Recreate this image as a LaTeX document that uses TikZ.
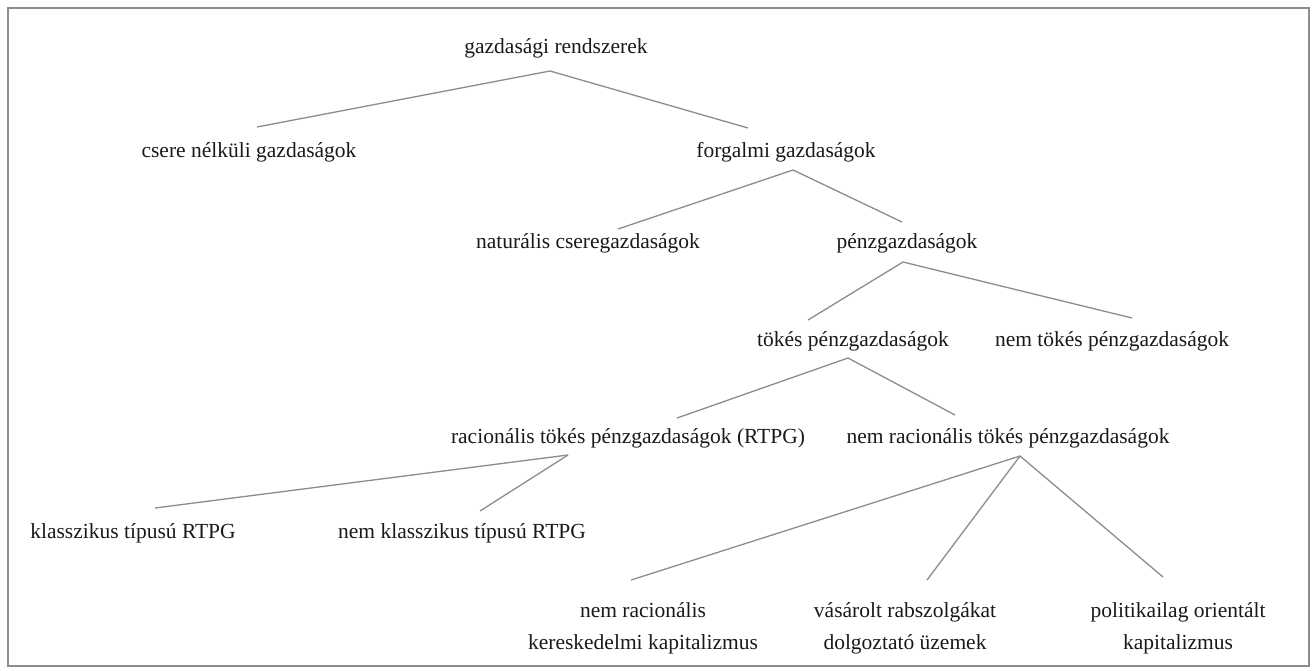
\documentclass[tikz,border=0pt]{standalone}
\usepackage{fontspec}
\setmainfont{Liberation Serif}
\begin{document}
\begin{tikzpicture}[x=1pt,y=-1pt,
  lbl/.style={inner sep=0pt, font=\fontsize{21.5}{32}\selectfont, align=center, text=black!90},
  edge/.style={draw=black!45, line width=1.3pt},
  frame/.style={draw=black!45, line width=1.5pt}]
\useasboundingbox (0,0) rectangle (1316,670);
\draw[frame] (8,8) rectangle (1309,666);
% nodes
\node[lbl] (root) at (556,48) {gazdasági rendszerek};
\node[lbl] (csere) at (249,152) {csere nélküli gazdaságok};
\node[lbl] (forg) at (786,152) {forgalmi gazdaságok};
\node[lbl] (nat) at (588,243) {naturális cseregazdaságok};
\node[lbl] (penz) at (907,243) {pénzgazdaságok};
\node[lbl] (tokes) at (853,341) {tökés pénzgazdaságok};
\node[lbl] (nemtokes) at (1112,341) {nem tökés pénzgazdaságok};
\node[lbl] (rac) at (628,438) {racionális tökés pénzgazdaságok (RTPG)};
\node[lbl] (nemrac) at (1008,438) {nem racionális tökés pénzgazdaságok};
\node[lbl] (klass) at (133,533) {klasszikus típusú RTPG};
\node[lbl] (nemklass) at (462,533) {nem klasszikus típusú RTPG};
\node[lbl] (nrk) at (643,628) {nem racionális\\kereskedelmi kapitalizmus};
\node[lbl] (vas) at (905,628) {vásárolt rabszolgákat\\dolgoztató üzemek};
\node[lbl] (pol) at (1178,628) {politikailag orientált\\kapitalizmus};
% connector end points
\coordinate (rootB) at (550,71);
\coordinate (csereT) at (257,127);
\coordinate (forgT) at (748,128);
\coordinate (forgB) at (793,170);
\coordinate (natT) at (618,229);
\coordinate (penzT) at (902,222);
\coordinate (penzB) at (903,262);
\coordinate (tokesT) at (808,320);
\coordinate (nemtokesT) at (1132,318);
\coordinate (tokesB) at (848,358);
\coordinate (racT) at (677,418);
\coordinate (nemracT) at (955,415);
\coordinate (racB) at (568,455);
\coordinate (klassT) at (155,508);
\coordinate (nemklassT) at (480,511);
\coordinate (nemracB) at (1020,456);
\coordinate (nrkT) at (631,580);
\coordinate (vasT) at (927,580);
\coordinate (polT) at (1163,577);
% connectors
\draw[edge] (rootB) -- (csereT);
\draw[edge] (rootB) -- (forgT);
\draw[edge] (forgB) -- (natT);
\draw[edge] (forgB) -- (penzT);
\draw[edge] (penzB) -- (tokesT);
\draw[edge] (penzB) -- (nemtokesT);
\draw[edge] (tokesB) -- (racT);
\draw[edge] (tokesB) -- (nemracT);
\draw[edge] (racB) -- (klassT);
\draw[edge] (racB) -- (nemklassT);
\draw[edge] (nemracB) -- (nrkT);
\draw[edge] (nemracB) -- (vasT);
\draw[edge] (nemracB) -- (polT);
\end{tikzpicture}
\end{document}
